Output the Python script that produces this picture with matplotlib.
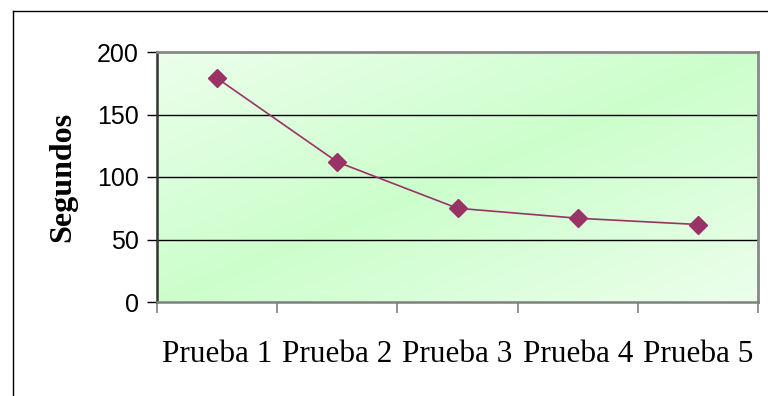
import numpy as np
import matplotlib
matplotlib.use('Agg')
import matplotlib.pyplot as plt
from matplotlib.lines import Line2D

# test results
pruebas = ['Prueba 1', 'Prueba 2', 'Prueba 3', 'Prueba 4', 'Prueba 5']
segundos = [179, 112, 75, 67, 62]
y_ticks = [0, 50, 100, 150, 200]

fig = plt.figure(figsize=(7.68, 3.96), dpi=100)
ax = fig.add_axes([157/768, 1 - 302/396, 601/768, 250/396])

# diagonal gradient background: pale at top-left and bottom-right, greener across the middle
light = np.array([0.925, 0.998, 0.925])
green = np.array([0.80, 1.0, 0.80])
gx, gy = np.meshgrid(np.linspace(0, 1, 300), np.linspace(0, 1, 200))
t = 1 - np.abs(gx + gy - 1)
grad = light + (green - light) * t[..., None]
ax.imshow(grad, extent=[0, 1, 0, 1], transform=ax.transAxes, aspect='auto',
          origin='upper', zorder=0)

x = np.arange(len(pruebas))
ax.plot(x, segundos, color='#993366', lw=1.2, marker='D', ms=9.5,
        markeredgecolor='#993366', zorder=3)

ax.set_xlim(-0.5, len(pruebas) - 0.5)
ax.set_ylim(0, 200)
ax.set_yticks(y_ticks)
ax.set_yticklabels([str(v) for v in y_ticks], fontsize=18, family='Liberation Sans')
ax.set_xticks(x)
ax.set_xticklabels(pruebas, fontsize=22.5, family='Liberation Serif')
ax.tick_params(axis='x', length=0, pad=27)
ax.set_xticks(np.arange(len(pruebas) + 1) - 0.5, minor=True)
ax.tick_params(axis='x', which='minor', length=8, width=1.2, color='#808080')
ax.tick_params(axis='y', length=7, width=1.0, color='black', pad=6)

for v in y_ticks[1:-1]:
    ax.axhline(v, color='black', lw=1.0, zorder=2)

ax.spines['left'].set_color('#333333')
ax.spines['left'].set_linewidth(1.8)
ax.spines['bottom'].set_color('#808080')
ax.spines['bottom'].set_linewidth(1.8)
ax.spines['top'].set_color('#888888')
ax.spines['top'].set_linewidth(2.0)
ax.spines['right'].set_color('#888888')
ax.spines['right'].set_linewidth(2.0)

ax.set_ylabel('Segundos', fontsize=23, family='Liberation Serif', fontweight='bold',
              labelpad=14)

# chart area frame (left and top edges)
fig.add_artist(Line2D([13/768, 13/768], [0, 1 - 11/396], color='black', lw=1.0))
fig.add_artist(Line2D([13/768, 1], [1 - 11/396, 1 - 11/396], color='black', lw=1.0))

fig.savefig('out.png', dpi=100)
